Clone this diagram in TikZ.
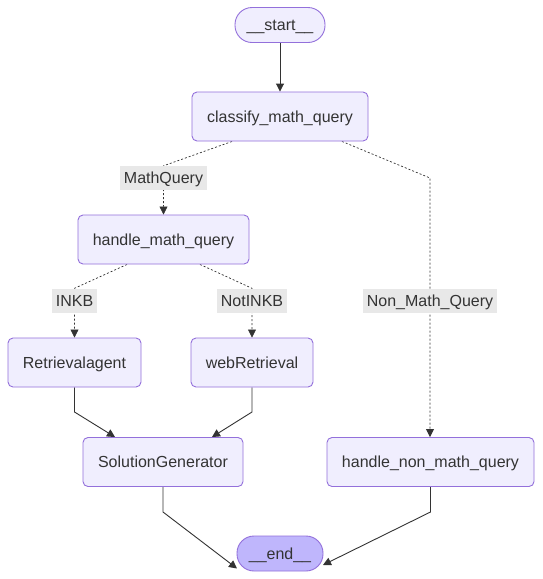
\documentclass[tikz,border=0pt]{standalone}
\usepackage{fontspec}
\setmainfont{Liberation Sans}
\usetikzlibrary{arrows.meta,backgrounds}
\definecolor{nodefill}{HTML}{F0EEFE}
\definecolor{nodeline}{HTML}{9370DB}
\definecolor{endfill}{HTML}{BFB6FC}
\definecolor{labelbg}{HTML}{E8E8E8}
\definecolor{txt}{HTML}{333333}
\definecolor{edgecol}{HTML}{333333}
\tikzset{
  every node/.style={text height=14.5pt, text depth=3.5pt},
  box/.style={draw=nodeline, fill=nodefill, line width=0.9pt, rounded corners=5pt,
    inner sep=0pt, text=txt, minimum height=49pt},
  pill/.style={draw=nodeline, line width=0.9pt, rounded corners=17pt,
    inner sep=0pt, text=txt, minimum height=35pt},
  elabel/.style={fill=labelbg, inner xsep=4pt, inner ysep=0pt, minimum height=24pt, text=txt},
  solidedge/.style={draw=edgecol, line width=0.9pt, -{Triangle[length=8pt,width=8pt]}},
  dotedge/.style={draw=edgecol, line width=0.7pt, dash pattern=on 2pt off 2pt, -{Triangle[length=8pt,width=8pt]}}
}
\begin{document}
\begin{tikzpicture}[x=1pt,y=-1pt,font=\fontsize{16}{19}\selectfont]
\useasboundingbox (0,0) rectangle (542,579);

\node[pill, fill=nodefill, minimum width=90pt] (start) at (280,25) {\_\_start\_\_};
\node[box, minimum width=176pt] (classify) at (280,116.5) {classify\_math\_query};
\node[box, minimum width=171pt] (hmq) at (163.5,239.5) {handle\_math\_query};
\node[box, minimum width=133pt] (ret) at (74.5,362.5) {Retrievalagent};
\node[box, minimum width=122pt] (web) at (252,362.5) {webRetrieval};
\node[box, minimum width=160pt] (sol) at (163,462) {SolutionGenerator};
\node[box, minimum width=207pt] (hnm) at (430.5,462) {handle\_non\_math\_query};
\node[pill, fill=endfill, minimum width=86pt] (end) at (280,553.5) {\_\_end\_\_};

\node[elabel] (lmq) at (163.5,178) {MathQuery};
\node[elabel] (linkb) at (74.5,300.5) {INKB};
\node[elabel] (lnot) at (252,300.5) {NotINKB};
\node[elabel] (lnm) at (430,301) {Non\_Math\_Query};

\coordinate (bnm) at (430,178);
\coordinate (bret) at (74.5,412);
\coordinate (bweb) at (252,412);
\coordinate (bsol) at (163,512);
\coordinate (bhnm) at (430.5,512);

\begin{pgfonlayer}{background}
\fill[white] (0,0) rectangle (542,579);
\draw[solidedge] (start.south) -- (classify.north);
\draw[dotedge] ([xshift=-48pt]classify.south) -- (lmq.north) -- (hmq.north);
\draw[dotedge] ([xshift=62pt]classify.south) -- (bnm) -- (hnm.north -| bnm);
\draw[dotedge] ([xshift=-36.5pt]hmq.south) -- (linkb.north) -- (ret.north);
\draw[dotedge] ([xshift=36.5pt]hmq.south) -- (lnot.north) -- (web.north);
\draw[solidedge] (ret.south) -- (bret) -- ([xshift=-48pt]sol.north);
\draw[solidedge] (web.south) -- (bweb) -- ([xshift=49pt]sol.north);
\draw[solidedge] (sol.south) -- (bsol) -- ([xshift=-43pt,yshift=-15pt]end.center);
\draw[solidedge] (hnm.south) -- (bhnm) -- ([xshift=43pt,yshift=-11.5pt]end.center);
\end{pgfonlayer}
\end{tikzpicture}
\end{document}
